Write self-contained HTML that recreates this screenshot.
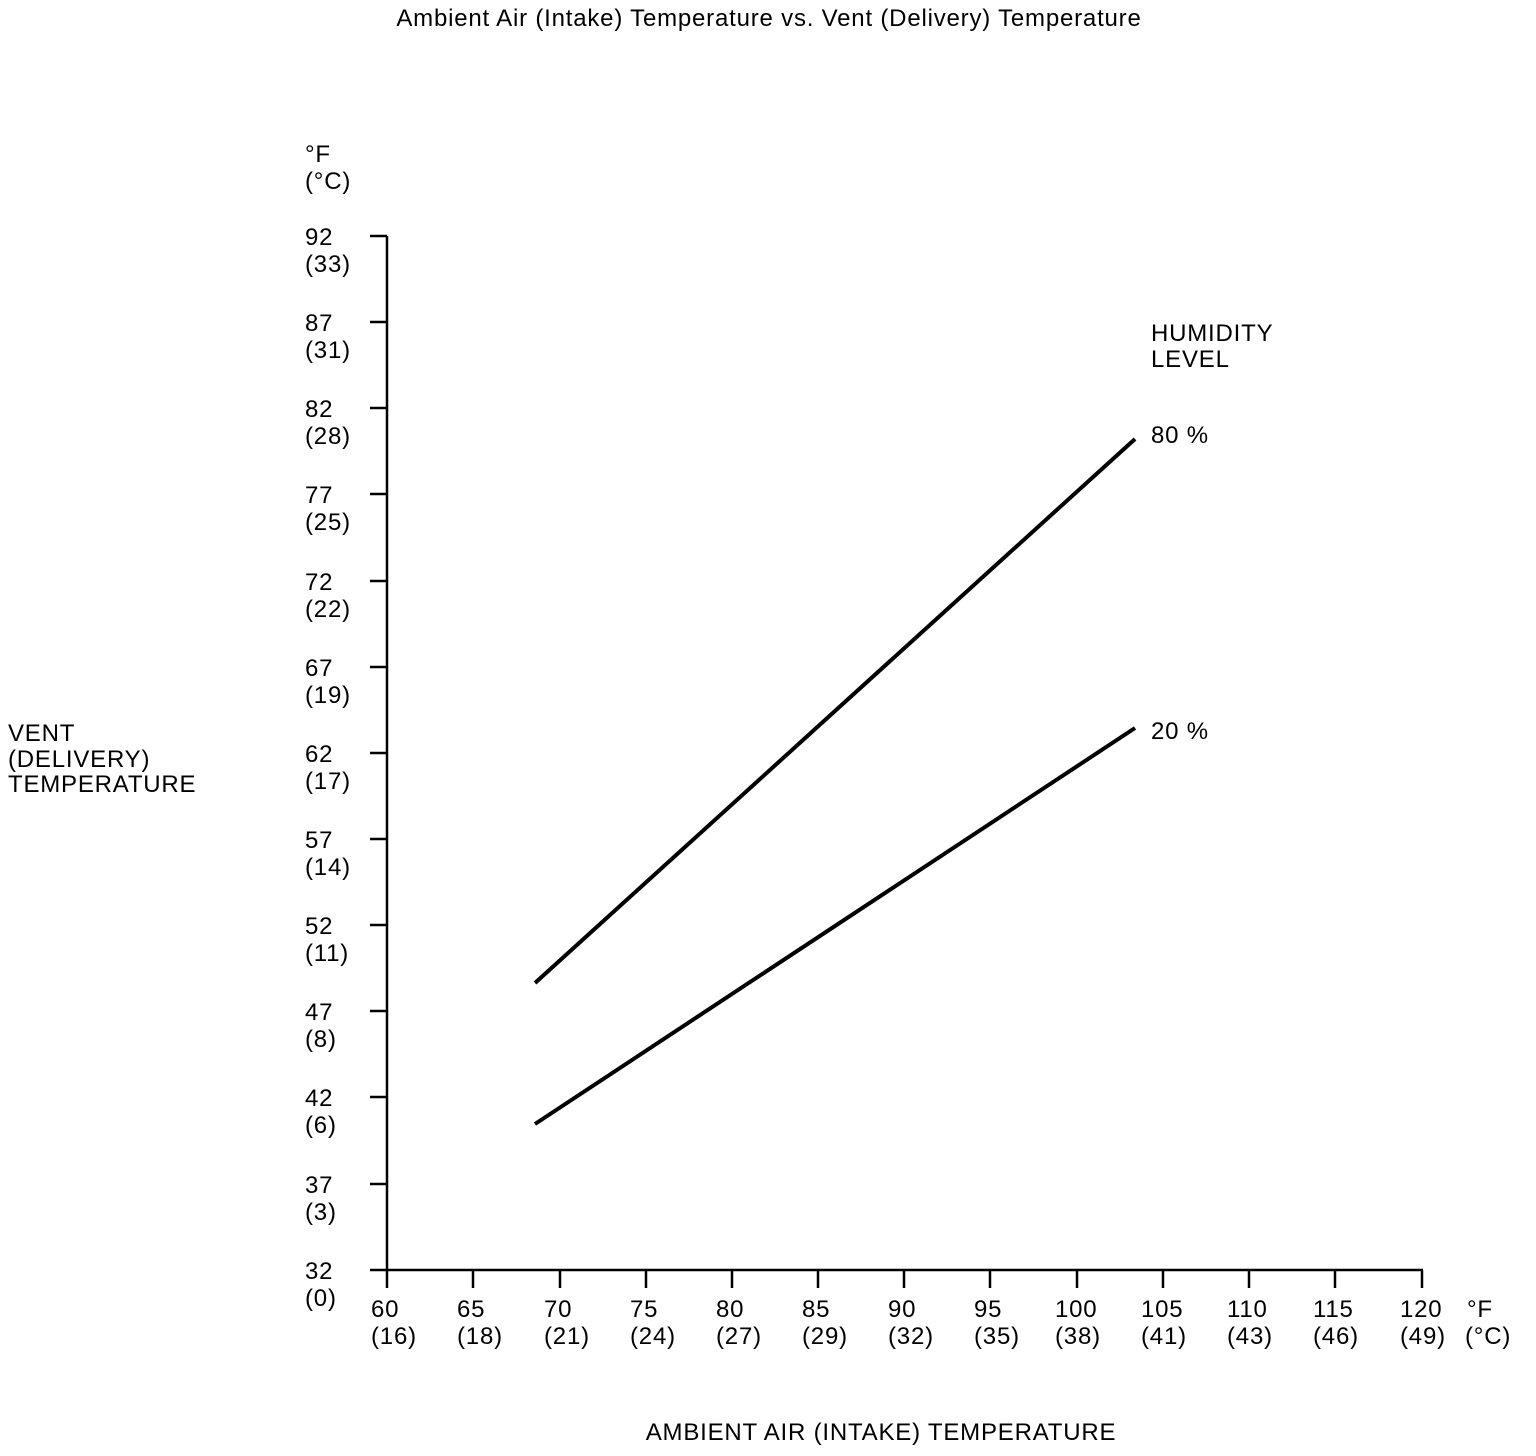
<!DOCTYPE html>
<html><head><style>body{margin:0;background:#fff}svg{display:block}text{font-family:"Liberation Sans",Arial,sans-serif;font-size:24px;letter-spacing:0.8px;fill:#000}</style></head><body>
<svg width="1536" height="1456" viewBox="0 0 1536 1456" xmlns="http://www.w3.org/2000/svg">
<text x="769" y="26" text-anchor="middle">Ambient Air (Intake) Temperature vs. Vent (Delivery) Temperature</text>
<text x="305" y="162">°F</text><text x="305" y="189">(°C)</text>
<g stroke="#000" stroke-width="2.5" fill="none">
<line x1="387" y1="236" x2="387" y2="1271"/>
<line x1="370" y1="1270" x2="1423" y2="1270"/>
<line x1="370" y1="236" x2="387" y2="236"/>
<line x1="370" y1="322" x2="387" y2="322"/>
<line x1="370" y1="408" x2="387" y2="408"/>
<line x1="370" y1="494" x2="387" y2="494"/>
<line x1="370" y1="581" x2="387" y2="581"/>
<line x1="370" y1="667" x2="387" y2="667"/>
<line x1="370" y1="753" x2="387" y2="753"/>
<line x1="370" y1="839" x2="387" y2="839"/>
<line x1="370" y1="925" x2="387" y2="925"/>
<line x1="370" y1="1011" x2="387" y2="1011"/>
<line x1="370" y1="1097" x2="387" y2="1097"/>
<line x1="370" y1="1184" x2="387" y2="1184"/>
<line x1="387" y1="1270" x2="387" y2="1288"/>
<line x1="473" y1="1270" x2="473" y2="1288"/>
<line x1="560" y1="1270" x2="560" y2="1288"/>
<line x1="646" y1="1270" x2="646" y2="1288"/>
<line x1="732" y1="1270" x2="732" y2="1288"/>
<line x1="818" y1="1270" x2="818" y2="1288"/>
<line x1="904" y1="1270" x2="904" y2="1288"/>
<line x1="990" y1="1270" x2="990" y2="1288"/>
<line x1="1077" y1="1270" x2="1077" y2="1288"/>
<line x1="1163" y1="1270" x2="1163" y2="1288"/>
<line x1="1249" y1="1270" x2="1249" y2="1288"/>
<line x1="1335" y1="1270" x2="1335" y2="1288"/>
<line x1="1422" y1="1270" x2="1422" y2="1288"/>
<line x1="535" y1="983" x2="1135" y2="439" stroke-width="4"/>
<line x1="535" y1="1124" x2="1135" y2="728" stroke-width="4"/>
</g>
<g>
<text x="305" y="245">92</text><text x="305" y="272">(33)</text>
<text x="305" y="331">87</text><text x="305" y="358">(31)</text>
<text x="305" y="417">82</text><text x="305" y="444">(28)</text>
<text x="305" y="503">77</text><text x="305" y="530">(25)</text>
<text x="305" y="590">72</text><text x="305" y="617">(22)</text>
<text x="305" y="676">67</text><text x="305" y="703">(19)</text>
<text x="305" y="762">62</text><text x="305" y="789">(17)</text>
<text x="305" y="848">57</text><text x="305" y="875">(14)</text>
<text x="305" y="934">52</text><text x="305" y="961">(11)</text>
<text x="305" y="1020">47</text><text x="305" y="1047">(8)</text>
<text x="305" y="1106">42</text><text x="305" y="1133">(6)</text>
<text x="305" y="1193">37</text><text x="305" y="1220">(3)</text>
<text x="305" y="1279">32</text><text x="305" y="1306">(0)</text>
</g>
<g>
<text x="371" y="1317">60</text><text x="371" y="1344">(16)</text>
<text x="457" y="1317">65</text><text x="457" y="1344">(18)</text>
<text x="544" y="1317">70</text><text x="544" y="1344">(21)</text>
<text x="630" y="1317">75</text><text x="630" y="1344">(24)</text>
<text x="716" y="1317">80</text><text x="716" y="1344">(27)</text>
<text x="802" y="1317">85</text><text x="802" y="1344">(29)</text>
<text x="888" y="1317">90</text><text x="888" y="1344">(32)</text>
<text x="974" y="1317">95</text><text x="974" y="1344">(35)</text>
<text x="1055" y="1317">100</text><text x="1055" y="1344">(38)</text>
<text x="1141" y="1317">105</text><text x="1141" y="1344">(41)</text>
<text x="1227" y="1317">110</text><text x="1227" y="1344">(43)</text>
<text x="1313" y="1317">115</text><text x="1313" y="1344">(46)</text>
<text x="1400" y="1317">120</text><text x="1400" y="1344">(49)</text>
<text x="1467" y="1317">°F</text><text x="1465" y="1344">(°C)</text>
</g>
<text x="1151" y="341">HUMIDITY</text><text x="1151" y="367">LEVEL</text>
<text x="1151" y="443">80 %</text>
<text x="1151" y="739">20 %</text>
<text x="8" y="741">VENT</text><text x="8" y="767">(DELIVERY)</text><text x="8" y="792">TEMPERATURE</text>
<text x="881" y="1440" text-anchor="middle">AMBIENT AIR (INTAKE) TEMPERATURE</text>
</svg>
</body></html>
